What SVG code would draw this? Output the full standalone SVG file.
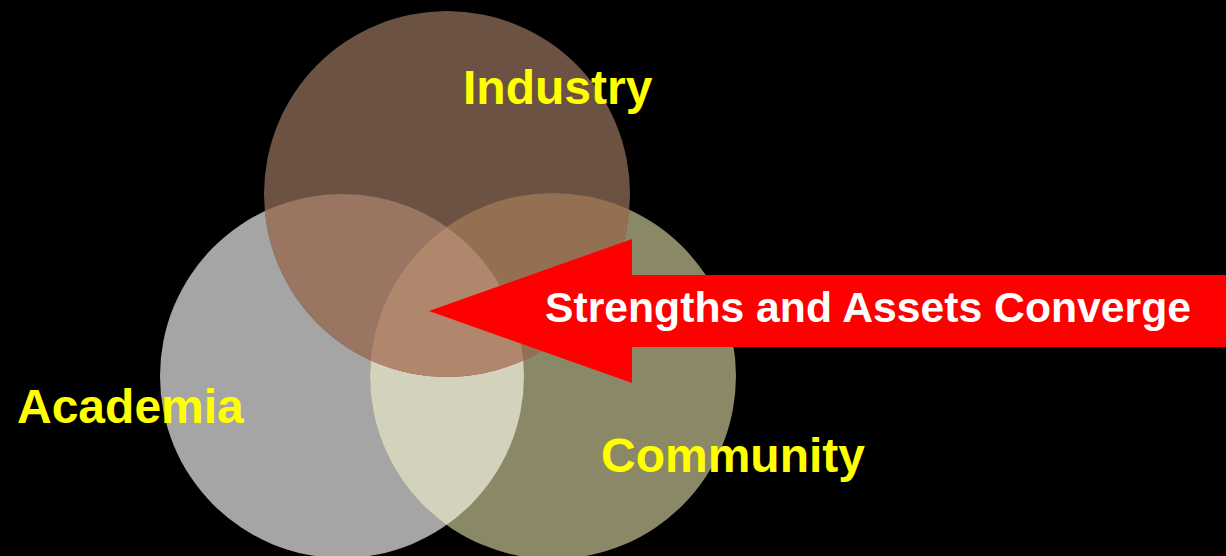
<svg xmlns="http://www.w3.org/2000/svg" width="1226" height="556" viewBox="0 0 1226 556">
<defs>
<style>
.lbl{font-family:"Liberation Sans",Arial,sans-serif;font-weight:bold;font-size:48px;fill:#ffff00}
.arrtxt{font-family:"Liberation Sans",Arial,sans-serif;font-weight:bold;font-size:42.7px;fill:#ffffff}
</style>
<clipPath id="clipA"><circle cx="342" cy="376" r="182"/></clipPath>
<clipPath id="clipC"><circle cx="553" cy="376" r="183"/></clipPath>
<clipPath id="clipI"><circle cx="447" cy="194" r="183"/></clipPath>
</defs>
<rect x="0" y="0" width="1226" height="556" fill="#000000"/>
<g id="academia">
<circle cx="342" cy="376" r="182" fill="#a5a5a5"/>
</g>
<g id="community">
<circle cx="553" cy="376" r="183" fill="#8a8866"/>
</g>
<g id="industry">
<circle cx="447" cy="194" r="183" fill="#6b5243"/>
</g>
<g id="overlaps">
<circle cx="342" cy="376" r="182" fill="#d3d2bc" clip-path="url(#clipC)"/>
<circle cx="342" cy="376" r="182" fill="#9a7561" clip-path="url(#clipI)"/>
<circle cx="553" cy="376" r="183" fill="#946f52" clip-path="url(#clipI)"/>
<g clip-path="url(#clipA)">
<circle cx="553" cy="376" r="183" fill="#b0866c" clip-path="url(#clipI)"/>
</g>
</g>
<g id="labels">
<text class="lbl" x="463" y="104">Industry</text>
<text class="lbl" x="17" y="423">Academia</text>
<text class="lbl" x="601" y="472">Community</text>
</g>
<g id="connectors">
<polygon points="429,311 632,239 632,275 1226,275 1226,347 632,347 632,383" fill="#ff0000"/>
<text class="arrtxt" x="545" y="322">Strengths and Assets Converge</text>
</g>
</svg>
